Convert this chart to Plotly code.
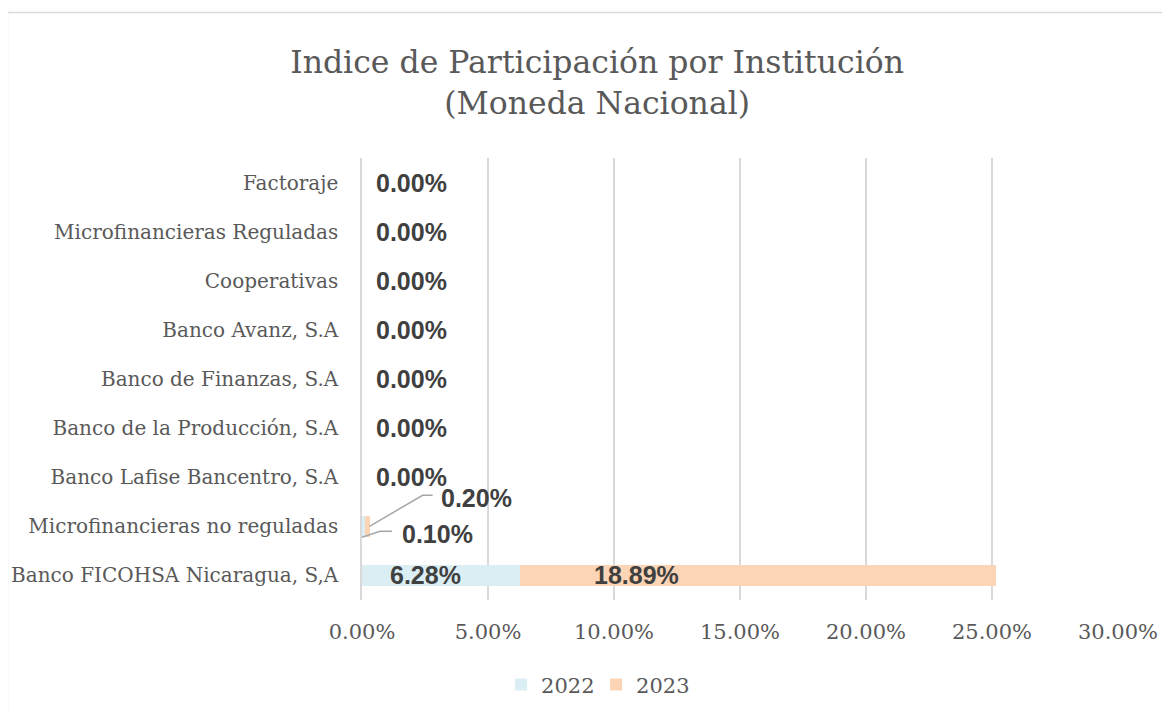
import plotly.graph_objects as go

categories = [
    "Banco FICOHSA Nicaragua, S,A",
    "Microfinancieras no reguladas",
    "Banco Lafise Bancentro, S.A",
    "Banco de la Producción, S.A",
    "Banco de Finanzas, S.A",
    "Banco Avanz, S.A",
    "Cooperativas",
    "Microfinancieras Reguladas",
    "Factoraje",
]
v2022 = [6.28, 0.10, 0.0, 0.0, 0.0, 0.0, 0.0, 0.0, 0.0]
v2023 = [18.89, 0.20, 0.0, 0.0, 0.0, 0.0, 0.0, 0.0, 0.0]
x_ticks = [0, 5, 10, 15, 20, 25, 30]
x_tick_labels = ["0.00%", "5.00%", "10.00%", "15.00%", "20.00%", "25.00%", "30.00%"]

C2022 = "#DAEEF3"
C2023 = "#FBD5B5"
SERIF = "DejaVu Serif"
LABEL_FONT = dict(family="Liberation Sans, Arial, sans-serif", size=25, color="#404040")

fig = go.Figure()
fig.add_trace(go.Bar(y=categories, x=v2022, name="2022", orientation="h",
                     marker=dict(color=C2022, line=dict(width=0)), hoverinfo="x+y"))
fig.add_trace(go.Bar(y=categories, x=v2023, name="2023", orientation="h",
                     marker=dict(color=C2023, line=dict(width=0)), hoverinfo="x+y"))

annotations = []
shapes = []
for i, cat in enumerate(categories):
    a, b = v2022[i], v2023[i]
    if a == 0 and b == 0:
        annotations.append(dict(x=0, y=cat, xref="x", yref="y", text="<b>0.00%</b>",
                                showarrow=False, xanchor="left", xshift=12, font=LABEL_FONT))
    elif a > 1:
        annotations.append(dict(x=0, y=cat, xref="x", yref="y", text=f"<b>{a:.2f}%</b>",
                                showarrow=False, xanchor="left", xshift=26, font=LABEL_FONT))
        annotations.append(dict(x=a, y=cat, xref="x", yref="y", text=f"<b>{b:.2f}%</b>",
                                showarrow=False, xanchor="left", xshift=72, font=LABEL_FONT))
    else:
        # small values with leader lines
        annotations.append(dict(x=a + b, y=cat, xref="x", yref="y", text=f"<b>{b:.2f}%</b>",
                                showarrow=False, xanchor="left", xshift=69, yshift=28, font=LABEL_FONT))
        annotations.append(dict(x=0, y=cat, xref="x", yref="y", text=f"<b>{a:.2f}%</b>",
                                showarrow=False, xanchor="left", xshift=38, yshift=-8, font=LABEL_FONT))
        shapes.append(dict(type="path", xref="x", yref="y", xsizemode="pixel", ysizemode="pixel",
                           xanchor=a + b, yanchor=cat, path="M 0,0 L 53,31 L 63,31",
                           line=dict(color="#A6A6A6", width=1.5)))
        shapes.append(dict(type="path", xref="x", yref="y", xsizemode="pixel", ysizemode="pixel",
                           xanchor=0, yanchor=cat, path="M 0,-11 L 18,-5 L 30,-5",
                           line=dict(color="#A6A6A6", width=1.5)))

# chart border (outer frame): left and top edges visible
shapes.append(dict(type="rect", xref="paper", yref="paper", x0=-0.469, x1=1.2, y0=-0.4, y1=1.329,
                   line=dict(color="#D9D9D9", width=1.5), fillcolor="rgba(0,0,0,0)", layer="below"))

fig.update_layout(
    width=1162, height=704,
    barmode="stack", bargap=0.57,
    plot_bgcolor="white", paper_bgcolor="white",
    margin=dict(l=354, r=52, t=150, b=112, autoexpand=False),
    title=dict(text="Indice de Participación por Institución<br>(Moneda Nacional)",
               x=0.507, xanchor="center", y=0.9077, yanchor="middle",
               font=dict(family=SERIF, size=31.5, color="#595959")),
    xaxis=dict(range=[0, 30], tickvals=x_ticks, ticktext=x_tick_labels, automargin=False,
               showgrid=True, gridcolor="#D9D9D9", gridwidth=1.5, zeroline=False,
               showline=False, ticks="", tickfont=dict(family=SERIF, size=21, color="#595959"),
               ticklabelstandoff=17, fixedrange=True),
    yaxis=dict(categoryorder="array", categoryarray=categories, showgrid=False, automargin=False,
               showline=True, linecolor="#D9D9D9", linewidth=1.5, ticks="",
               tickfont=dict(family=SERIF, size=20, color="#595959"),
               ticklabelstandoff=18, fixedrange=True),
    legend=dict(orientation="h", x=0.184, xanchor="left", y=-0.192, yanchor="middle",
                entrywidth=50, entrywidthmode="pixels",
                font=dict(family=SERIF, size=21, color="#595959"), traceorder="normal"),
    annotations=annotations, shapes=shapes, showlegend=True,
)
fig.write_html("out.html")
